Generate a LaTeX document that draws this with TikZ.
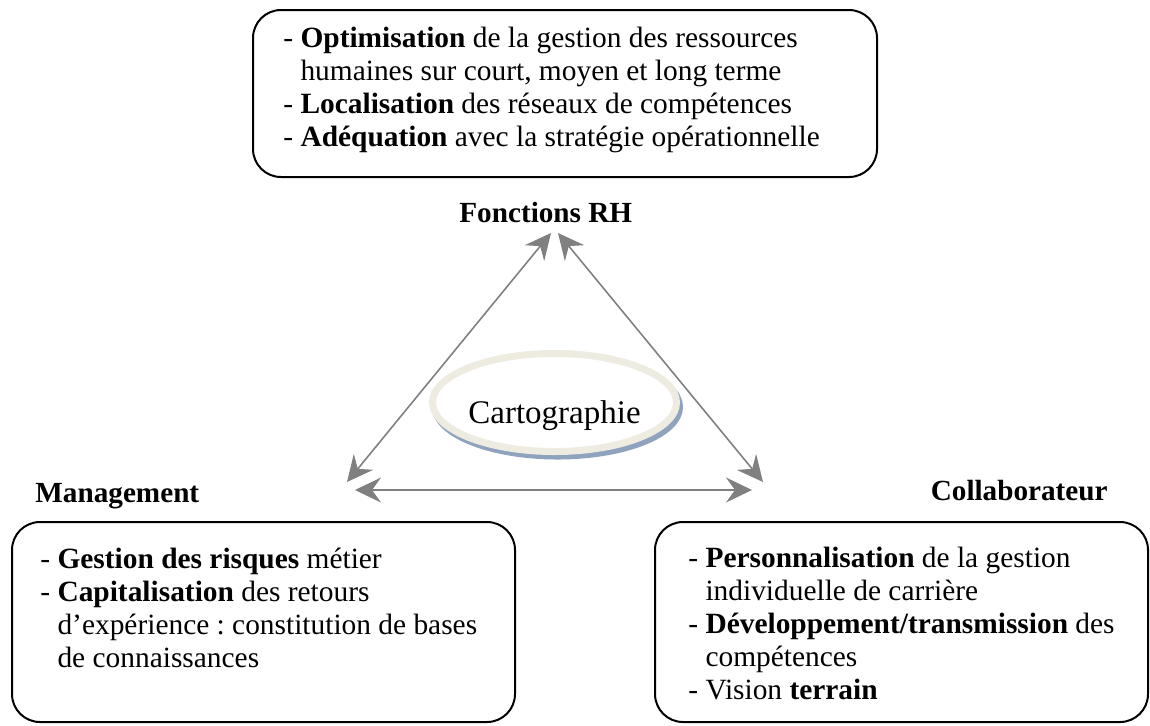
\documentclass[tikz,border=0pt]{standalone}
\usepackage{fontspec}
\setmainfont{Liberation Serif}
\usetikzlibrary{arrows.meta,shapes.geometric}
\definecolor{ringbeige}{HTML}{EEECE1}
\definecolor{ringshadow}{HTML}{8FA2BE}
\definecolor{arrowgray}{HTML}{808080}
\frenchspacing
\begin{document}
\begin{tikzpicture}[x=0.5pt,y=-0.5pt,
  box/.style={draw=black, line width=1pt, rounded corners=14pt, rectangle, inner sep=0pt},
  body/.style={anchor=north west, inner sep=0pt, align=left, font=\fontsize{14.7}{16.5}\selectfont},
  head/.style={inner sep=0pt, font=\fontsize{14.6}{16.5}\selectfont\bfseries},
  link/.style={draw=arrowgray, line width=0.8pt, {Stealth[length=13pt,width=12.5pt,inset=4.5pt]}-{Stealth[length=13pt,width=12.5pt,inset=4.5pt]}},
  ring/.style={ellipse, line width=3.5pt, minimum width=122pt, minimum height=49pt, inner sep=0pt}
]
\useasboundingbox (0,0) rectangle (1150,725);

% boxes
\node[box, minimum width=312pt, minimum height=83.5pt] (topbox) at (565,93.5) {};
\node[box, minimum width=251.5pt, minimum height=100pt] (leftbox) at (263.5,622) {};
\node[box, minimum width=246.5pt, minimum height=100pt] (rightbox) at (901.5,622) {};

% box texts
\node[body] (toptext) at (283,27) {- \textbf{Optimisation} de la gestion des ressources\\
\phantom{- }humaines sur court, moyen et long terme\\
- \textbf{Localisation} des réseaux de compétences\\
- \textbf{Adéquation} avec la stratégie opérationnelle};

\node[body] (lefttext) at (40,548) {- \textbf{Gestion des risques} métier\\
- \textbf{Capitalisation} des retours\\
\phantom{- }d’expérience : constitution de bases\\
\phantom{- }de connaissances};

\node[body] (righttext) at (688,547) {- \textbf{Personnalisation} de la gestion\\
\phantom{- }individuelle de carrière\\
- \textbf{Développement/transmission} des\\
\phantom{- }compétences\\
- Vision \textbf{terrain}};

% headings
\node[head, anchor=base west] (rh) at (459,222) {Fonctions RH};
\node[head, anchor=base west] (mgmt) at (35,502) {Management};
\node[head, anchor=base east] (collab) at (1108,500) {Collaborateur};

% central ellipse
\node[ring, draw=ringshadow] (cartoshadow) at (557.5,407) {};
\node[ring, draw=ringbeige, fill=white] (carto) at (554.5,402.5) {};
\node[inner sep=0pt, anchor=base, font=\fontsize{16.5}{20}\selectfont] (cartolabel) at (554.5,423) {Cartographie};

% arrows
\coordinate (rhA) at (551,233);
\coordinate (rhB) at (558,233);
\coordinate (mgA) at (347,482);
\coordinate (mgB) at (355,490);
\coordinate (coA) at (763,482);
\coordinate (coB) at (752,490);
\draw[link] (rhA) -- (mgA);
\draw[link] (rhB) -- (coA);
\draw[link] (mgB) -- (coB);
\end{tikzpicture}
\end{document}
